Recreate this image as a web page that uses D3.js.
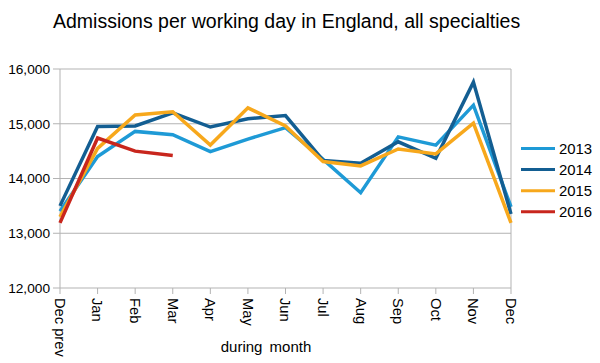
<!DOCTYPE html>
<html>
<head>
<meta charset="utf-8">
<script src="https://cdn.jsdelivr.net/npm/d3@7"></script>
<style>
  body { margin: 0; background: #fff; }
  svg { font-family: "Liberation Sans", Arial, sans-serif; }
</style>
</head>
<body>
<div id="chart"></div>
<script>
var months = ["Dec prev", "Jan", "Feb", "Mar", "Apr", "May", "Jun", "Jul", "Aug", "Sep", "Oct", "Nov", "Dec"]
var years = ["2013", "2014", "2015", "2016"]
var colors = ["#1e9ad6", "#135e92", "#f7a81c", "#c8261d"]

var v2013 = [13400, 14400, 14860, 14800, 14490, 14720, 14930, 14350, 13740, 14760, 14610, 15340, 13480]
var v2014 = [13500, 14950, 14960, 15200, 14940, 15090, 15150, 14330, 14280, 14670, 14370, 15760, 13350]
var v2015 = [13300, 14550, 15160, 15220, 14610, 15290, 14960, 14310, 14230, 14540, 14450, 15010, 13190]
var v2016 = [13190, 14740, 14500, 14420]
var series = [v2013, v2014, v2015, v2016]

var yTicks = [12000, 13000, 14000, 15000, 16000]

var margin = {top: 69, right: 89, bottom: 75, left: 60},
    width = 600 - margin.left - margin.right,
    height = 363 - margin.top - margin.bottom

var svg = d3.select("#chart").append("svg")
    .attr("width", 600)
    .attr("height", 363)

svg.append("text")
    .attr("x", 53)
    .attr("y", 28)
    .attr("font-size", "19.5px")
    .attr("fill", "#000")
    .text("Admissions per working day in England, all specialties")

var g = svg.append("g")
    .attr("transform", "translate(" + margin.left + "," + margin.top + ")")

var xScale = d3.scalePoint()
    .domain(months)
    .range([0, width])

var yScale = d3.scaleLinear()
    .domain([12000, 16000])
    .range([height, 0])

// grid lines
g.selectAll(".grid")
    .data(yTicks)
    .enter().append("line")
    .attr("class", "grid")
    .attr("x1", -7)
    .attr("x2", width)
    .attr("y1", function(d){ return yScale(d) })
    .attr("y2", function(d){ return yScale(d) })
    .attr("stroke", "#b3b3b3")
    .attr("stroke-width", 1)

// frame sides
g.append("line")
    .attr("x1", 0).attr("x2", 0)
    .attr("y1", 0).attr("y2", height)
    .attr("stroke", "#b3b3b3")
g.append("line")
    .attr("x1", width).attr("x2", width)
    .attr("y1", 0).attr("y2", height)
    .attr("stroke", "#b3b3b3")

// y labels
g.selectAll(".ylab")
    .data(yTicks)
    .enter().append("text")
    .attr("class", "ylab")
    .attr("x", -10)
    .attr("y", function(d){ return yScale(d) })
    .attr("dy", "0.35em")
    .attr("text-anchor", "end")
    .attr("font-size", "13.7px")
    .text(d3.format(","))

// x ticks
g.selectAll(".xtick")
    .data(months)
    .enter().append("line")
    .attr("class", "xtick")
    .attr("x1", function(d){ return xScale(d) })
    .attr("x2", function(d){ return xScale(d) })
    .attr("y1", height)
    .attr("y2", height + 6)
    .attr("stroke", "#b3b3b3")

g.selectAll(".xlab")
    .data(months)
    .enter().append("text")
    .attr("class", "xlab")
    .attr("transform", function(d){
        return "translate(" + xScale(d) + "," + (height + 10) + ") rotate(90)"
    })
    .attr("dy", "0.35em")
    .attr("font-size", "14.7px")
    .text(function(d){ return d })

svg.append("text")
    .attr("x", 266)
    .attr("y", 352)
    .attr("text-anchor", "middle")
    .attr("font-size", "15px")
    .attr("word-spacing", "3px")
    .text("during month")

var line = d3.line()
    .x(function(d, i){ return xScale(months[i]) })
    .y(function(d){ return yScale(d) })

g.selectAll(".series")
    .data(series)
    .enter().append("path")
    .attr("class", "series")
    .attr("d", line)
    .attr("fill", "none")
    .attr("stroke", function(d, i){ return colors[i] })
    .attr("stroke-width", 3.5)
    .attr("stroke-linejoin", "miter")

// legend
var legend = svg.selectAll(".legend")
    .data(years)
    .enter().append("g")
    .attr("class", "legend")
    .attr("transform", function(d, i){ return "translate(521," + (148.5 + i * 21.1) + ")" })

legend.append("line")
    .attr("x1", 0).attr("x2", 34)
    .attr("stroke", function(d, i){ return colors[i] })
    .attr("stroke-width", 3)

legend.append("text")
    .attr("x", 38)
    .attr("dy", "0.35em")
    .attr("font-size", "14.9px")
    .text(function(d){ return d })
</script>
</body>
</html>
